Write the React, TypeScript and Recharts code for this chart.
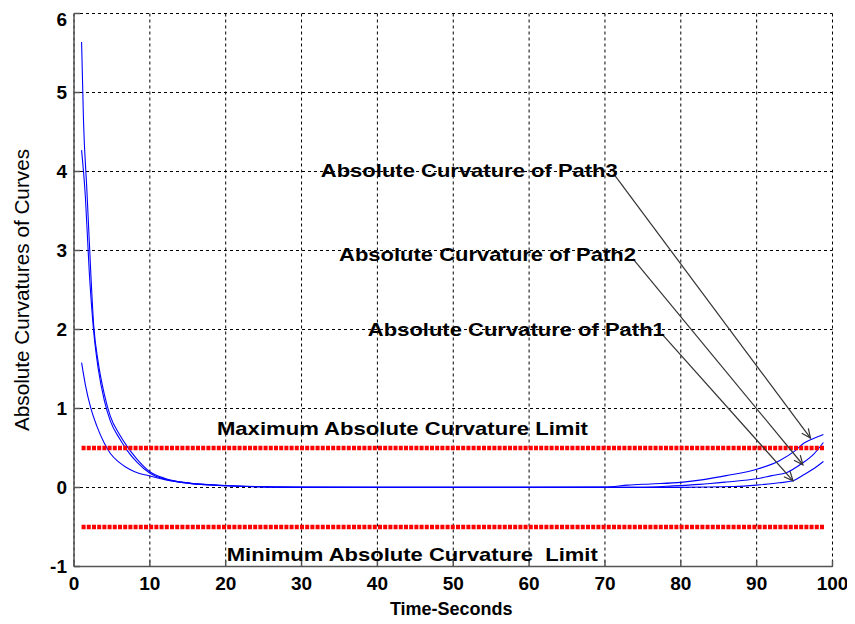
import { LineChart, Line, XAxis, YAxis, CartesianGrid, ReferenceLine, ReferenceDot } from 'recharts'

const FONT = '"Liberation Sans", Arial, Helvetica, sans-serif'

const timeTicks = [0, 10, 20, 30, 40, 50, 60, 70, 80, 90, 100]
const curvatureTicks = [-1, 0, 1, 2, 3, 4, 5, 6]

// [time, |curvature|]
const path1 = [
  [1, 1.58], [1.5, 1.3], [2.2, 1.01], [3, 0.78], [4, 0.56], [4.8, 0.43], [5.8, 0.33], [6.8, 0.26],
  [8, 0.2], [10, 0.145], [12, 0.1], [15, 0.055], [20, 0.022], [25, 0.008], [30, 0.002], [80, 0.002],
  [87, 0.012], [90, 0.03], [93, 0.06], [94.8, 0.085], [96, 0.15], [97.4, 0.23], [98.8, 0.33],
]
const path2 = [
  [1, 4.27], [1.5, 3.68], [2, 2.75], [2.6, 1.97], [3.2, 1.5], [4, 1.1], [4.8, 0.84], [6, 0.62],
  [7, 0.47], [8.3, 0.32], [10, 0.18], [12, 0.105], [15, 0.055], [20, 0.022], [25, 0.008], [30, 0.003],
  [60, 0.002], [75, 0.004], [79, 0.02], [82.5, 0.04], [86, 0.07], [90, 0.11], [92, 0.15], [94, 0.19],
  [95.9, 0.3], [97.5, 0.42], [98.8, 0.57],
]
const path3 = [
  [1, 5.64], [1.25, 4.65], [1.7, 3.76], [1.95, 3.25], [2.6, 2.05], [3.2, 1.58], [4, 1.18], [4.8, 0.9],
  [6, 0.67], [7, 0.52], [8.3, 0.36], [10, 0.2], [12, 0.115], [15, 0.06], [20, 0.026], [25, 0.01],
  [30, 0.005], [50, 0.003], [70, 0.006], [73, 0.03], [76, 0.045], [80, 0.065], [83, 0.1], [86, 0.15],
  [90, 0.23], [93, 0.34], [95, 0.46], [96.2, 0.56], [97.5, 0.62], [98.8, 0.67],
]

const maxLimit = [[1, 0.5], [99, 0.5]]
const minLimit = [[1, -0.5], [99, -0.5]]

const pointers = [
  { label: 'Absolute Curvature of Path3', from: [71.3, 3.95], to: [97.1, 0.626] },
  { label: 'Absolute Curvature of Path2', from: [73.7, 2.895], to: [96.1, 0.288] },
  { label: 'Absolute Curvature of Path1', from: [77.5, 1.944], to: [94.8, 0.085] },
]
const limitNotes = [
  { label: 'Maximum Absolute Curvature Limit', at: [43.3, 0.75] },
  { label: 'Minimum Absolute Curvature  Limit', at: [44.6, -0.853] },
]

const rows = (pts: number[][]) => pts.map(([t, v]) => ({ t, v }))

const tickStyle = { fontSize: 19, fontWeight: 700, fill: '#000', fontFamily: FONT }

function Pointer({ x1, y1, x2, y2, text }: any) {
  const a = Math.atan2(y2 - y1, x2 - x1)
  const len = 10
  const p1 = `${x2 - len * Math.cos(a - 0.42)},${y2 - len * Math.sin(a - 0.42)}`
  const p2 = `${x2 - len * Math.cos(a + 0.42)},${y2 - len * Math.sin(a + 0.42)}`
  return (
    <g>
      <line x1={x1} y1={y1} x2={x2} y2={y2} stroke="#333" strokeWidth={1.2} />
      <polyline points={`${p1} ${x2},${y2} ${p2}`} fill="none" stroke="#333" strokeWidth={1.2} />
      <text x={x1 + 3} y={y1 + 2} textAnchor="end" fontFamily={FONT} fontWeight={700} fontSize={19}
        textLength={297} lengthAdjust="spacingAndGlyphs" fill="#000">{text}</text>
    </g>
  )
}

function NoteText({ cx, cy, text }: any) {
  return (
    <text x={cx} y={cy} textAnchor="middle" dominantBaseline="central" fontFamily={FONT} fontWeight={700}
      fontSize={19} textLength={371} lengthAdjust="spacingAndGlyphs" fill="#000" style={{ whiteSpace: 'pre' }}>
      {text}
    </text>
  )
}

export default function App() {
  return (
    <div style={{ width: 839, height: 610, background: '#fff' }}>
      <LineChart width={839} height={610} margin={{ top: 5.5, right: 14.5, left: 0, bottom: 1.5 }}>
        <CartesianGrid stroke="#000" strokeDasharray="3 3" strokeWidth={1} />
        <XAxis
          type="number"
          dataKey="t"
          domain={[0, 100]}
          ticks={timeTicks}
          allowDataOverflow
          height={50}
          tickSize={-6}
          tickMargin={16}
          tick={tickStyle}
          stroke="#555"
          strokeWidth={1.5}
          label={{
            content: ({ viewBox }: any) => (
              <text x={viewBox.x + viewBox.width / 2 - 2} y={viewBox.y + 48.5} textAnchor="middle"
                fontFamily={FONT} fontWeight={700} fontSize={18} fill="#000">Time-Seconds</text>
            ),
          }}
        />
        <XAxis xAxisId="top" orientation="top" type="number" domain={[0, 100]} ticks={timeTicks}
          allowDataOverflow height={0} tickSize={-6} tick={false} stroke="#555" strokeWidth={1.5} />
        <YAxis
          type="number"
          domain={[-1, 6]}
          ticks={curvatureTicks}
          allowDataOverflow
          width={66}
          tickSize={-6}
          tickMargin={13}
          tick={tickStyle}
          stroke="#555"
          strokeWidth={1.5}
          label={{
            content: ({ viewBox }: any) => {
              const cx = 14
              const cy = viewBox.y + viewBox.height / 2
              return (
                <text x={cx} y={cy} transform={`rotate(-90 ${cx} ${cy})`} textAnchor="middle"
                  dominantBaseline="central" fontFamily={FONT} fontSize={20} fill="#000"
                  textLength={282} lengthAdjust="spacingAndGlyphs">Absolute Curvatures of Curves</text>
              )
            },
          }}
        />
        <YAxis yAxisId="right" orientation="right" type="number" domain={[-1, 6]} ticks={curvatureTicks}
          allowDataOverflow width={0} tickSize={-6} tick={false} stroke="#555" strokeWidth={1.5} />

        <Line data={rows(path1)} dataKey="v" type="monotone" stroke="#0000ff" strokeWidth={1.1} dot={false} isAnimationActive={false} />
        <Line data={rows(path2)} dataKey="v" type="monotone" stroke="#0000ff" strokeWidth={1.1} dot={false} isAnimationActive={false} />
        <Line data={rows(path3)} dataKey="v" type="monotone" stroke="#0000ff" strokeWidth={1.1} dot={false} isAnimationActive={false} />

        <Line data={rows(maxLimit)} dataKey="v" type="linear" stroke="#ff0000" strokeWidth={4.5}
          strokeDasharray="4 1.2" dot={false} isAnimationActive={false} />
        <Line data={rows(minLimit)} dataKey="v" type="linear" stroke="#ff0000" strokeWidth={4.5}
          strokeDasharray="4 1.2" dot={false} isAnimationActive={false} />

        {pointers.map(p => (
          <ReferenceLine
            key={p.label}
            segment={[{ x: p.from[0], y: p.from[1] }, { x: p.to[0], y: p.to[1] }]}
            shape={(props: any) => <Pointer {...props} text={p.label} />}
          />
        ))}
        {limitNotes.map(n => (
          <ReferenceDot
            key={n.label}
            x={n.at[0]}
            y={n.at[1]}
            r={0}
            shape={(props: any) => <NoteText {...props} text={n.label} />}
          />
        ))}
      </LineChart>
    </div>
  )
}
